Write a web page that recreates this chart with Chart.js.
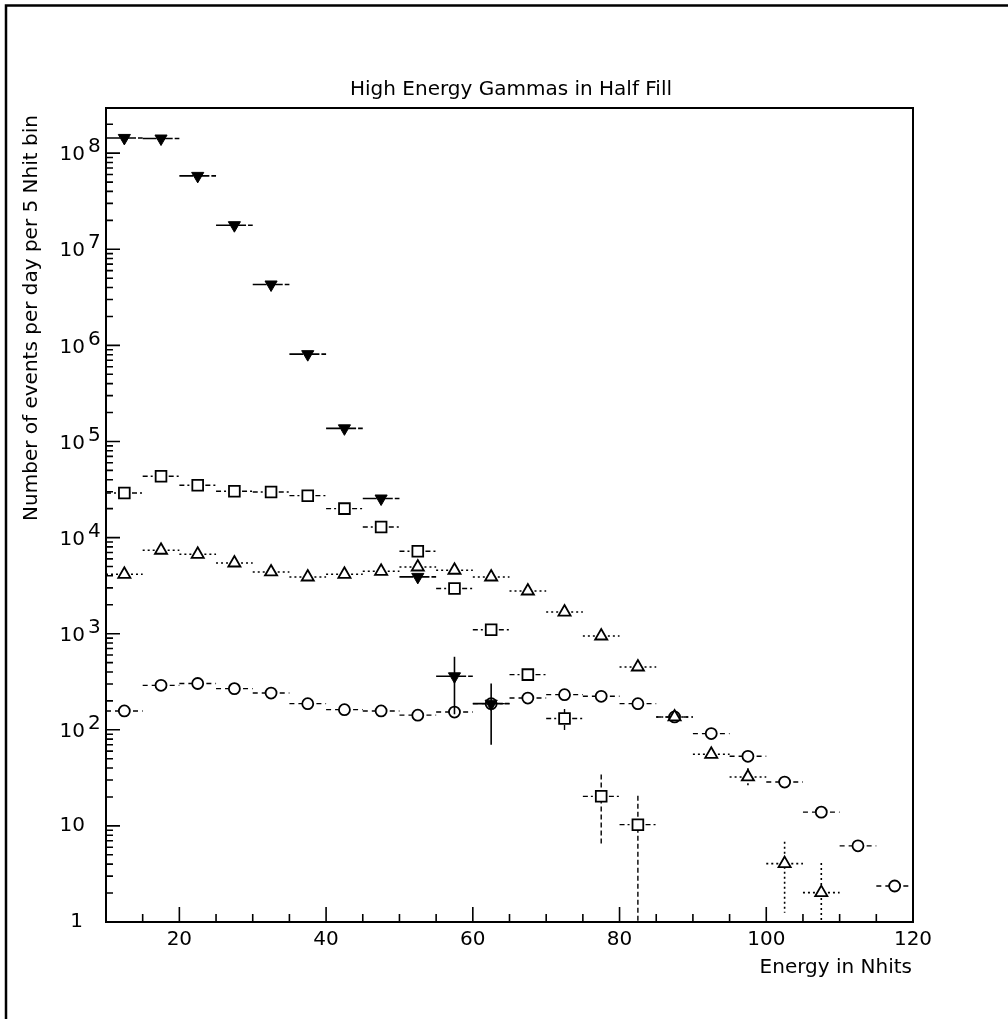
<!DOCTYPE html>
<html><head><meta charset="utf-8">
<script src="https://cdn.jsdelivr.net/npm/chart.js@4.4.0/dist/chart.umd.min.js"></script>
<style>html,body{margin:0;padding:0;background:#fff;}#wrap{width:1008px;height:1019px;position:relative;}</style>
</head><body><div id="wrap"><canvas id="c" width="1008" height="1019"></canvas></div>
<script>
// ---------- data ----------
const binCenters = [12.5,17.5,22.5,27.5,32.5,37.5,42.5,47.5,52.5,57.5,62.5,67.5,72.5,77.5,82.5,87.5,92.5,97.5,102.5,107.5,112.5,117.5];
const binHalfWidth = 2.5;
const triDownValues = [1.44e8,1.42e8,5.8e7,1.78e7,4.3e6,8.1e5,1.37e5,2.55e4,3.9e3,360,187];
const triDownErrors = [0,0,0,0,0,0,0,0,0,215,117];
const squareValues = [2.91e4,4.34e4,3.5e4,3.03e4,2.98e4,2.73e4,2.0e4,1.29e4,7.2e3,2.95e3,1.1e3,375,131,20.3,10.3];
const squareErrors = [0,0,0,0,0,0,0,0,0,0,0,0,34,14,10.3];
const triUpValues = [4.15e3,7.38e3,6.7e3,5.44e3,4.39e3,3.89e3,4.15e3,4.46e3,4.94e3,4.57e3,3.89e3,2.78e3,1.68e3,946,450,136,55.6,32.3,4.05,2.02];
const triUpErrors = [0,0,0,0,0,0,0,0,0,0,0,0,0,0,0,0,5,7.5,2.8,2.1];
const circleValues = [157,290,303,268,241,187,162,157,142,153,187,214,232,223,187,136,91.3,53,28.6,13.9,6.2,2.37];
const circleErrors = [];
const xMajorTicks = [20,40,60,80,100,120];
const xTickLabels = ['20','40','60','80','100','120'];
const xMinorTicks = [15,25,30,35,45,50,55,65,70,75,85,90,95,105,110,115];
const yDecadeExponents = [0,1,2,3,4,5,6,7,8];
const titleText = 'High Energy Gammas in Half Fill';
const xTitleText = 'Energy in Nhits';
const yTitleText = 'Number of events per day per 5 Nhit bin';

const FONT = '"DejaVu Sans", sans-serif';

function pts(vals){ return vals.map((v,i)=>({x:binCenters[i], y:v})); }

const errStyles = [
  {h:[14,2], v:[], w:1.6, err:triDownErrors},
  {h:[5,3,2,3], v:[5,3], w:1.4, err:squareErrors},
  {h:[2,3], v:[2,3], w:1.6, err:triUpErrors},
  {h:[5,4], v:[5,4], w:1.4, err:circleErrors}
];

const errorBarPlugin = {
  id:'errbars',
  beforeDatasetDraw(chart, args){
    const i = args.index, st = errStyles[i];
    const ds = chart.data.datasets[i];
    const xs = chart.scales.x, ys = chart.scales.y, ca = chart.chartArea;
    const ctx = chart.ctx;
    ctx.save();
    ctx.beginPath(); ctx.rect(ca.left, ca.top, ca.right-ca.left, ca.bottom-ca.top); ctx.clip();
    ctx.strokeStyle = '#000'; ctx.lineWidth = st.w;
    ds.data.forEach((p,k)=>{
      const px = xs.getPixelForValue(p.x), py = ys.getPixelForValue(p.y);
      ctx.setLineDash(st.h);
      ctx.beginPath();
      ctx.moveTo(xs.getPixelForValue(p.x-binHalfWidth), py);
      ctx.lineTo(xs.getPixelForValue(p.x+binHalfWidth), py);
      ctx.stroke();
      const e = st.err[k] || 0;
      if (e > 0){
        const top = ys.getPixelForValue(p.y+e);
        const lo = p.y - e;
        const bot = lo > 0 ? ys.getPixelForValue(lo) : ca.bottom;
        ctx.setLineDash(st.v);
        ctx.beginPath(); ctx.moveTo(px, top); ctx.lineTo(px, bot); ctx.stroke();
      }
    });
    ctx.restore();
  }
};

const framePlugin = {
  id:'frame',
  afterDraw(chart){
    const ctx = chart.ctx, ca = chart.chartArea, xs = chart.scales.x, ys = chart.scales.y;
    ctx.save();
    ctx.setLineDash([]);
    ctx.strokeStyle = '#000';
    // page border (top and left)
    ctx.lineWidth = 2.5;
    ctx.beginPath(); ctx.moveTo(6, 1019); ctx.lineTo(6, 5.5); ctx.lineTo(1008, 5.5); ctx.stroke();
    // plot frame
    ctx.lineWidth = 2;
    ctx.strokeRect(ca.left, ca.top, ca.right-ca.left, ca.bottom-ca.top);
    ctx.lineWidth = 1.6;
    // x ticks (inward)
    ctx.beginPath();
    xMajorTicks.forEach(v=>{ const x = xs.getPixelForValue(v); ctx.moveTo(x, ca.bottom); ctx.lineTo(x, ca.bottom-15); });
    xMinorTicks.forEach(v=>{ const x = xs.getPixelForValue(v); ctx.moveTo(x, ca.bottom); ctx.lineTo(x, ca.bottom-8); });
    // y ticks (inward)
    yDecadeExponents.forEach(e=>{
      const y = ys.getPixelForValue(Math.pow(10,e));
      ctx.moveTo(ca.left, y); ctx.lineTo(ca.left+14, y);
      for (let m=2; m<=9; m++){
        const v = m*Math.pow(10,e);
        if (v > ys.max) break;
        const yy = ys.getPixelForValue(v);
        ctx.moveTo(ca.left, yy); ctx.lineTo(ca.left+7, yy);
      }
    });
    ctx.stroke();
    // x tick labels
    ctx.fillStyle = '#000';
    ctx.font = '20px ' + FONT;
    ctx.textAlign = 'center'; ctx.textBaseline = 'middle';
    xMajorTicks.forEach((v,i)=>{ ctx.fillText(xTickLabels[i], xs.getPixelForValue(v), ca.bottom+18); });
    // y tick labels
    yDecadeExponents.forEach(e=>{
      const y = ys.getPixelForValue(Math.pow(10,e));
      ctx.textBaseline = 'middle';
      if (e === 0){ ctx.textAlign='right'; ctx.fillText('1', 83, y); }
      else if (e === 1){ ctx.textAlign='right'; ctx.fillText('10', 85, y); }
      else {
        ctx.textAlign='right'; ctx.fillText('10', 85, y+2);
        ctx.textAlign='left'; ctx.fillText(String(e), 88, y-6);
      }
    });
    // title
    ctx.font = '20px ' + FONT;
    ctx.textAlign = 'center'; ctx.textBaseline = 'alphabetic';
    ctx.fillText(titleText, 511, 95);
    // x title
    ctx.font = '20px ' + FONT;
    ctx.textAlign = 'right'; ctx.textBaseline = 'middle';
    ctx.fillText(xTitleText, 912, 968);
    // y title
    ctx.translate(32, 318);
    ctx.rotate(-Math.PI/2);
    ctx.textAlign = 'center'; ctx.textBaseline = 'middle';
    ctx.fillText(yTitleText, 0, 0);
    ctx.restore();
  }
};

new Chart(document.getElementById('c'), {
  type:'scatter',
  data:{ datasets:[
    {label:'triDown', data:pts(triDownValues), pointStyle:'triangle', rotation:180, pointRadius:7, pointHoverRadius:7, backgroundColor:'#000', borderColor:'#000', borderWidth:1},
    {label:'square', data:pts(squareValues), pointStyle:'rect', pointRadius:7.6, pointHoverRadius:7.6, backgroundColor:'#fff', borderColor:'#000', borderWidth:1.8},
    {label:'triUp', data:pts(triUpValues), pointStyle:'triangle', pointRadius:7, pointHoverRadius:7, backgroundColor:'#fff', borderColor:'#000', borderWidth:1.8},
    {label:'circle', data:pts(circleValues), pointStyle:'circle', pointRadius:5.5, pointHoverRadius:5.5, backgroundColor:'#fff', borderColor:'#000', borderWidth:1.8}
  ]},
  options:{
    responsive:false, animation:false, devicePixelRatio:1,
    layout:{padding:{left:106, right:95, top:108, bottom:97}},
    plugins:{legend:{display:false}, tooltip:{enabled:false}, title:{display:false}},
    scales:{
      x:{type:'linear', min:10, max:120, display:false},
      y:{type:'logarithmic', min:1, max:2.95e8, display:false}
    }
  },
  plugins:[errorBarPlugin, framePlugin]
});
</script></body></html>
